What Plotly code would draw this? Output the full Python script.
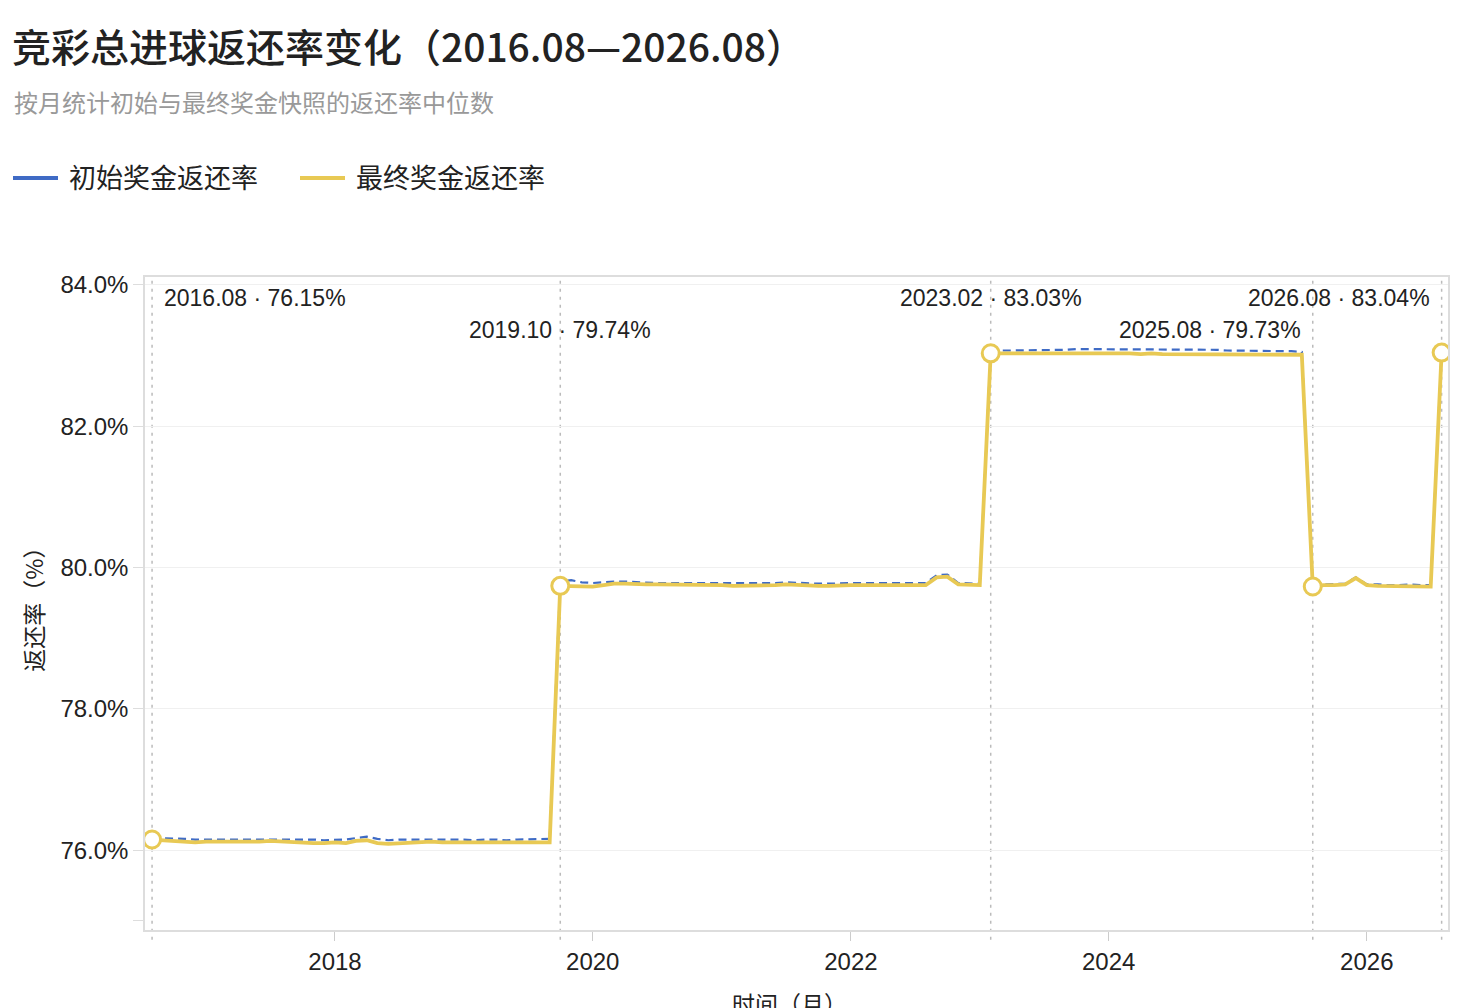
import pandas as pd
import plotly.graph_objects as go

# monthly axis: 2016.08 .. 2026.08 (121 months)
months = pd.date_range("2016-08-01", "2026-08-01", freq="MS")

# median return rate of the final prize snapshot (%)
final_rate = [
    # 2016.08 - 2019.09
    76.15, 76.14, 76.13, 76.12, 76.11, 76.12, 76.12, 76.12, 76.12, 76.11,
    76.12, 76.13, 76.12, 76.12, 76.11, 76.10, 76.10, 76.11, 76.10, 76.13,
    76.14, 76.10, 76.09, 76.10, 76.11, 76.11, 76.12, 76.11, 76.11, 76.10,
    76.11, 76.11, 76.11, 76.10, 76.11, 76.11, 76.11, 76.11,
    # 2019.10 - 2023.01
    79.74, 79.74, 79.73, 79.73, 79.75, 79.77, 79.77, 79.76, 79.76, 79.76,
    79.76, 79.75, 79.75, 79.75, 79.75, 79.75, 79.74, 79.74, 79.74, 79.75,
    79.75, 79.76, 79.75, 79.75, 79.74, 79.74, 79.75, 79.75, 79.75, 79.75,
    79.75, 79.74, 79.74, 79.74, 79.75, 79.86, 79.87, 79.76, 79.75, 79.75,
    # 2023.02 - 2025.07
    83.03, 83.03, 83.03, 83.03, 83.04, 83.03, 83.03, 83.03, 83.03, 83.03,
    83.03, 83.03, 83.03, 83.03, 83.02, 83.03, 83.02, 83.02, 83.02, 83.02,
    83.02, 83.02, 83.02, 83.02, 83.02, 83.02, 83.01, 83.01, 83.01, 83.01,
    # 2025.08 - 2026.08
    79.73, 79.75, 79.75, 79.76, 79.85, 79.75, 79.74, 79.74, 79.74, 79.74,
    79.73, 79.73, 83.04,
]

# median return rate of the initial prize snapshot (%)
initial_rate = [
    76.17, 76.17, 76.16, 76.16, 76.15, 76.15, 76.16, 76.16, 76.16, 76.15,
    76.16, 76.16, 76.16, 76.16, 76.15, 76.15, 76.14, 76.15, 76.15, 76.17,
    76.19, 76.16, 76.14, 76.15, 76.15, 76.16, 76.16, 76.16, 76.15, 76.15,
    76.14, 76.15, 76.15, 76.14, 76.15, 76.15, 76.15, 76.16,
    79.80, 79.82, 79.79, 79.78, 79.79, 79.80, 79.80, 79.79, 79.79, 79.78,
    79.78, 79.78, 79.78, 79.78, 79.78, 79.77, 79.77, 79.77, 79.77, 79.78,
    79.78, 79.79, 79.78, 79.78, 79.77, 79.77, 79.78, 79.78, 79.78, 79.78,
    79.78, 79.77, 79.77, 79.77, 79.78, 79.89, 79.90, 79.78, 79.77, 79.77,
    83.06, 83.07, 83.07, 83.07, 83.08, 83.08, 83.08, 83.08, 83.09, 83.09,
    83.09, 83.09, 83.09, 83.08, 83.08, 83.08, 83.08, 83.08, 83.08, 83.08,
    83.08, 83.08, 83.07, 83.07, 83.07, 83.07, 83.06, 83.06, 83.06, 83.05,
    79.74, 79.76, 79.76, 79.77, 79.86, 79.76, 79.76, 79.75, 79.75, 79.76,
    79.75, 79.75, 83.06,
]

# y axis ticks (75 only gets a tick mark, no label or grid)
y_ticks = [76, 78, 80, 82, 84]
y_minor_ticks = [75]

# highlighted months (change points)
key_months = ["2016.08", "2019.10", "2023.02", "2025.08", "2026.08"]
key_label_row = [0, 1, 0, 1, 0]          # 0 = upper row, 1 = lower row
key_label_align = ["left", "center", "center", "right", "right"]

BLUE = "#3F6BC5"
YELLOW = "#E8C954"
FONT = "Noto Sans CJK SC"
NUM_FONT = "Liberation Sans, Noto Sans CJK SC"

key_dates = [pd.Timestamp(m.replace(".", "-") + "-01") for m in key_months]
key_vals = [final_rate[list(months).index(d)] for d in key_dates]

fig = go.Figure()

fig.add_trace(go.Scatter(
    x=months, y=initial_rate, mode="lines", showlegend=False,
    line=dict(color=BLUE, width=2.2, dash="8px,5px"),
))
fig.add_trace(go.Scatter(
    x=months, y=final_rate, mode="lines", showlegend=False,
    line=dict(color=YELLOW, width=3.8),
))
fig.add_trace(go.Scatter(
    x=key_dates, y=key_vals, mode="markers", showlegend=False,
    marker=dict(size=17, color="white", line=dict(color=YELLOW, width=3)),
))

# legend entries drawn as solid lines
fig.add_trace(go.Scatter(x=[None], y=[None], mode="lines", name="\u00a0初始奖金返还率",
                         line=dict(color=BLUE, width=4)))
fig.add_trace(go.Scatter(x=[None], y=[None], mode="lines", name="\u00a0最终奖金返还率",
                         line=dict(color=YELLOW, width=4)))

# dotted guide lines at change points
for d in key_dates:
    fig.add_shape(type="line", xref="x", yref="paper", x0=d, x1=d, y0=-0.015, y1=1,
                  line=dict(color="#BBBBBB", width=1.5, dash="3px,5px"), layer="below")

# point labels
row_y = [0.968, 0.919]
for m, v, r, a, d in zip(key_months, key_vals, key_label_row, key_label_align, key_dates):
    shift = {"left": 10, "center": 0, "right": -10}[a]
    fig.add_annotation(x=d, y=row_y[r], xref="x", yref="paper",
                       text=f"{m} · {v:.2f}%", showarrow=False,
                       xanchor=a, yanchor="middle", xshift=shift,
                       font=dict(family=NUM_FONT, size=23, color="#222222"))

# subtitle
fig.add_annotation(x=-0.102, y=1.2695, xref="paper", yref="paper",
                   text="按月统计初始与最终奖金快照的返还率中位数", showarrow=False,
                   xanchor="left", yanchor="middle",
                   font=dict(family=FONT, size=24, color="#999999"))
# axis titles
fig.add_annotation(x=-0.0865, y=0.5, xref="paper", yref="paper",
                   text="返还率（%）", showarrow=False, textangle=-90,
                   xanchor="center", yanchor="middle",
                   font=dict(family=FONT, size=23, color="#222222"))
fig.add_annotation(x=0.495, y=-0.112, xref="paper", yref="paper",
                   text="时间（月）", showarrow=False,
                   xanchor="center", yanchor="middle",
                   font=dict(family=FONT, size=23, color="#222222"))

# the page adds an 8px body margin, so the layout is offset by -8px
fig.update_layout(
    width=1458, height=1008,
    margin=dict(l=137, r=18, t=269, b=86),
    paper_bgcolor="white", plot_bgcolor="white",
    title=dict(text="竞彩总进球返还率变化（2016.08—2026.08）",
               xref="container", yref="container", x=0.0027, y=0.960,
               xanchor="left", yanchor="middle",
               font=dict(family=FONT, size=39, color="#222222", weight=500)),
    legend=dict(orientation="h", xref="container", yref="container",
                x=0.0, y=0.831, xanchor="left", yanchor="middle",
                font=dict(family=FONT, size=27, color="#222222"),
                itemwidth=45, entrywidth=227, tracegroupgap=0),
    font=dict(family=NUM_FONT, color="#222222"),
)

fig.update_xaxes(
    type="date", range=["2016-07-12", "2026-08-19"],
    tick0="2016-01-01", dtick="M24", tickformat="%Y",
    ticks="outside", ticklen=9, tickcolor="#CCCCCC",
    tickfont=dict(family=NUM_FONT, size=24, color="#222222"),
    showgrid=False, showline=True, linecolor="#DDDDDD", linewidth=1.5,
    mirror=True, zeroline=False,
)
fig.update_yaxes(
    range=[74.87, 84.11], tickvals=y_ticks,
    ticktext=[f"{t:.1f}%" for t in y_ticks],
    ticks="outside", ticklen=10, tickcolor="#DDDDDD",
    tickfont=dict(family=NUM_FONT, size=24, color="#222222"),
    minor=dict(tickvals=y_minor_ticks, ticks="outside", ticklen=10,
               tickcolor="#DDDDDD", showgrid=False),
    showgrid=True, gridcolor="#F0F0F0", gridwidth=1,
    showline=True, linecolor="#DDDDDD", linewidth=1.5,
    mirror=True, zeroline=False,
)

fig.write_html("out.html")
